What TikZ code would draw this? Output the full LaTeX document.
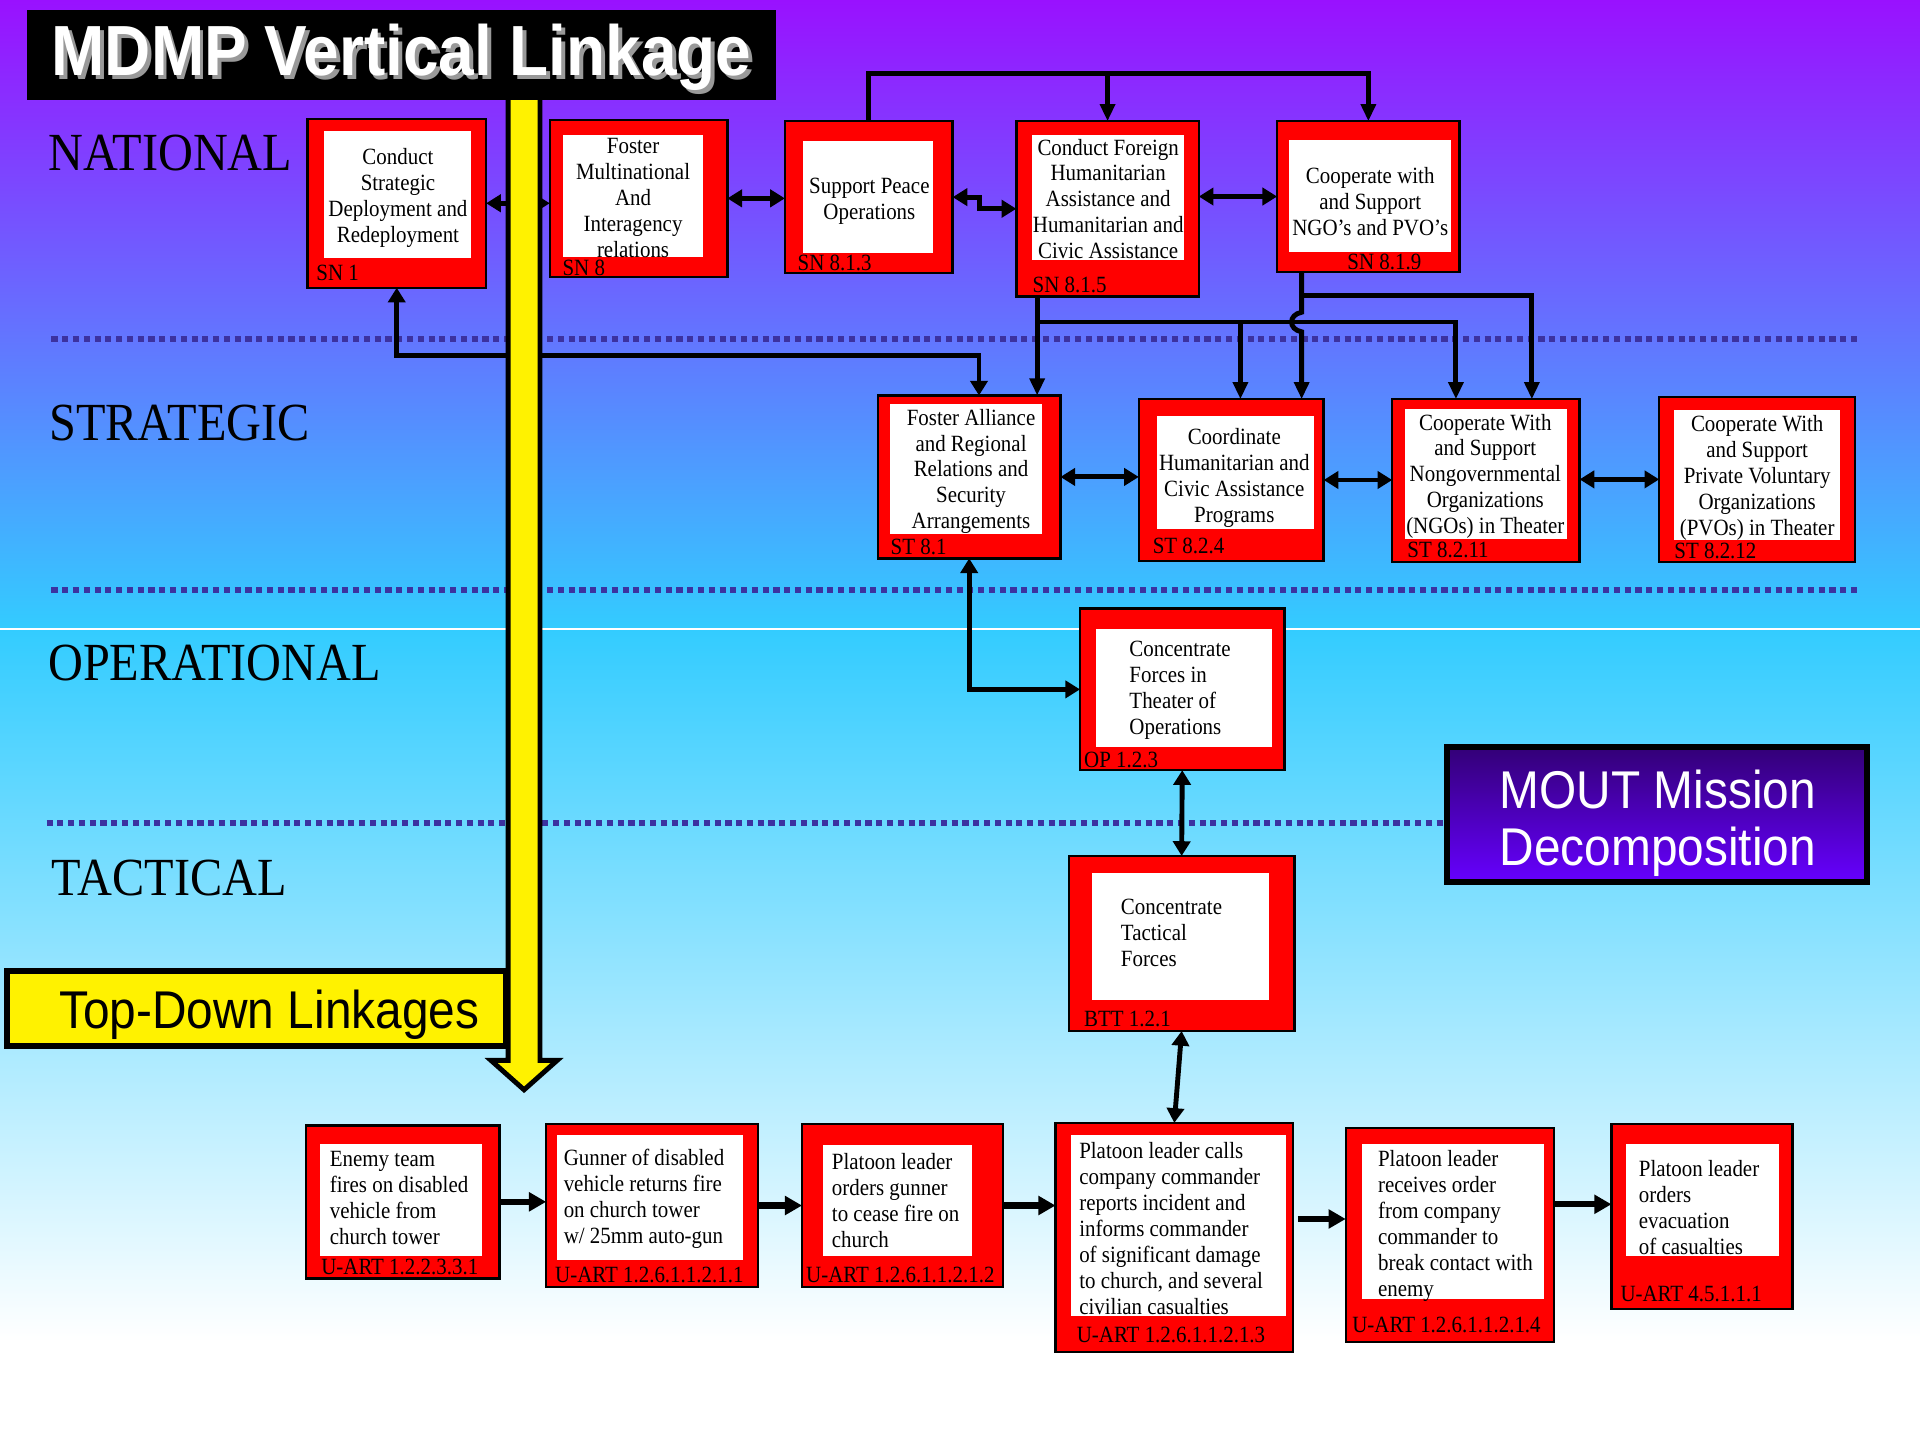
\documentclass[tikz,border=0pt]{standalone}
\usepackage{fontspec}
\setmainfont{Liberation Serif}[FakeStretch=0.9]
\newfontfamily\slideSans{Liberation Sans}[FakeStretch=0.9]
\usetikzlibrary{arrows.meta,fit}
\definecolor{slidePurple}{RGB}{153,17,255}
\definecolor{slideMid}{RGB}{104,150,255}
\definecolor{slideCyan}{RGB}{51,204,255}
\definecolor{dotBlue}{RGB}{60,50,160}
\definecolor{moutTop}{RGB}{51,0,119}
\definecolor{moutBottom}{RGB}{102,0,255}

\begin{document}
\begin{tikzpicture}
[x=0.5pt,y=-0.5pt,
  boxDecorate/.style={draw=black,fill=red,line width=1pt,inner sep=0pt,outer sep=0pt},
  textDecorate/.style={inner sep=0pt,yshift=-1pt,font=\fontsize{9.5}{10.6}\selectfont},
  codeDecorate/.style={inner sep=0pt,anchor=west,font=\fontsize{9.5}{10.6}\selectfont},
  levelDecorate/.style={inner sep=0pt,anchor=base west,font=\fontsize{21.9}{24}\selectfont},
  bannerDecorate/.style={inner sep=0pt,font=\slideSans\fontsize{21.7}{24}\selectfont},
  dotDecorate/.style={dotBlue,line width=2.5pt,dash pattern=on 2.5pt off 1.9pt},
  linkDecorate/.style={line width=2pt,{Triangle[length=6pt,width=7pt]}-{Triangle[length=6pt,width=7pt]}},
  downDecorate/.style={line width=2pt,-{Triangle[length=7pt,width=6pt]}},
  flowDecorate/.style={line width=2.6pt,-{Triangle[length=7pt,width=7.5pt]}}]
\useasboundingbox (0,0) rectangle (1568,1176);
%% background
\shade[top color=slidePurple,middle color=slideMid,bottom color=slideCyan] (0,0) rectangle (1568,514);
\shade[top color=slideCyan,bottom color=white] (0,514) rectangle (1568,1095);
\fill[white] (0,1094) rectangle (1568,1176);
\draw[white,line width=0.8pt] (0,514) -- (1568,514);
\draw[dotDecorate] (42,277) -- (1520,277);
\draw[dotDecorate] (42,482) -- (1520,482);
\draw[dotDecorate] (38,672) -- (1180,672);
%% levels
\node (national) [levelDecorate] at (39,139) {NATIONAL};
\node (strategic) [levelDecorate] at (40,360) {STRATEGIC};
\node (operational) [levelDecorate] at (39,556) {OPERATIONAL};
\node (tactical) [levelDecorate] at (42,731) {TACTICAL};
%% task boxes
\foreach \nm/\xa/\ya/\xb/\yb/\ia/\ja/\ib/\jb/\code/\lx/\ly in {
  sn1/251/97/397/235/265/107/385/211/{SN 1}/258/223,
  sn8/449/98/594/226/460/110/574/210/{SN 8}/459/219,
  sn813/641/99/778/223/656/115/762/207/{SN 8.1.3}/651/215,
  sn815/830/99/979/242/843/110/967/212/{SN 8.1.5}/843/233,
  sn819/1043/99/1192/222/1053/114/1185/206/{SN 8.1.9}/1100/214,
  st81/717/323/866/456/727/330/851/436/{ST 8.1}/727/447,
  st824/930/326/1081/458/945/340/1073/432/{ST 8.2.4}/941/446,
  st8211/1137/326/1290/459/1147/334/1280/440/{ST 8.2.11}/1149/449,
  st8212/1355/324/1515/459/1367/335/1503/441/{ST 8.2.12}/1367/450,
  op123/882/497/1049/629/895/514/1039/610/{OP 1.2.3}/885/621,
  btt121/873/699/1057/842/892/713/1036/817/{BTT 1.2.1}/885/832,
  ua/250/919/408/1044/261/934/394/1026/{U-ART 1.2.2.3.3.1}/262/1035,
  ub/446/918/619/1051/455/927/607/1029/{U-ART 1.2.6.1.1.2.1.1}/453/1041,
  uc/655/918/819/1051/672/935/794/1026/{U-ART 1.2.6.1.1.2.1.2}/658/1041,
  ud/862/917/1056/1104/875/927/1050/1075/{U-ART 1.2.6.1.1.2.1.3}/879/1090,
  ue/1099/921/1269/1096/1112/934/1261/1061/{U-ART 1.2.6.1.1.2.1.4}/1104/1082,
  uf/1316/918/1464/1069/1328/934/1453/1026/{U-ART 4.5.1.1.1}/1323/1057}
{
  \node (\nm) [boxDecorate,fit={(\xa,\ya) (\xb,\yb)}] {};
  \fill[white] (\ia,\ja) rectangle (\ib,\jb);
  \node (\nm-code) [codeDecorate] at (\lx,\ly) {\code};
}
%% box texts
\foreach \nm/\tx/\ty/\txt in {
  sn1/325/159.5/{Conduct\\Strategic\\Deployment and\\Redeployment},
  sn8/517/159.5/{Foster\\Multinational\\And\\Interagency\\relations},
  sn813/710/162/{Support Peace\\Operations},
  sn815/905/160.5/{Conduct Foreign\\Humanitarian\\Assistance and\\Humanitarian and\\Civic Assistance},
  sn819/1119/163/{Cooperate with\\and Support\\NGO’s and PVO’s},
  st81/793/383/{Foster Alliance\\and Regional\\Relations and\\Security\\Arrangements},
  st824/1008/388.5/{Coordinate\\Humanitarian and\\Civic Assistance\\Programs},
  st8211/1213/387/{Cooperate With\\and Support\\Nongovernmental\\Organizations\\(NGOs) in Theater},
  st8212/1435/388/{Cooperate With\\and Support\\Private Voluntary\\Organizations\\(PVOs) in Theater}}
{
  \node (\nm-text) [textDecorate,align=center] at (\tx,\ty) {\txt};
}
\foreach \nm/\tx/\ty/\txt in {
  op123/922/561.5/{Concentrate\\Forces in\\Theater of\\Operations},
  btt121/915/760/{Concentrate\\Tactical\\Forces},
  ua/269/976.5/{Enemy team\\fires on disabled\\vehicle from\\church tower},
  ub/460/977/{Gunner of disabled\\vehicle returns fire\\on church tower\\w/ 25mm auto-gun},
  uc/679/978.5/{Platoon leader\\orders gunner\\to cease fire on\\church},
  ud/881/1001.5/{Platoon leader calls\\company commander\\reports incident and\\informs commander\\of significant damage\\to church, and several\\civilian casualties},
  ue/1125/999/{Platoon leader\\receives order\\from company\\commander to\\break contact with\\enemy},
  uf/1338/984/{Platoon leader\\orders\\evacuation\\of casualties}}
{
  \node (\nm-text) [textDecorate,align=left,anchor=west] at (\tx,\ty) {\txt};
}
%% entry points
\coordinate (topBus) at (709,60);
\coordinate (midBus) at (847,263);
\coordinate (st81a) at ([xshift=4pt]st81.north);
\coordinate (st81b) at ([xshift=27.75pt]st81.north);
\coordinate (st824a) at ([xshift=3.75pt]st824.north);
\coordinate (st824b) at ([xshift=28.75pt]st824.north);
\coordinate (st8211a) at ([xshift=-12.25pt]st8211.north);
\coordinate (st8211b) at ([xshift=18.75pt]st8211.north);
\coordinate (udOut) at ([yshift=7.5pt]ud.east);
\coordinate (ufIn) at ([yshift=5pt]uf.west);
%% links
\draw[linkDecorate] (sn1.east) -- (sn1.east -| sn8.west);
\draw[linkDecorate] (sn8.east) -- (sn8.east -| sn813.west);
\draw[linkDecorate] (sn813.east) -- ++(22,0) |- (sn815.west);
\draw[linkDecorate] (sn815.east |- sn819.west) -- (sn819.west);
\draw[downDecorate] (sn813.north) |- (topBus -| sn819.north) -- (sn819.north);
\draw[downDecorate] (topBus -| sn815.north) -- (sn815.north);
\draw[linkDecorate] (sn1.south) -- ++(0,55) -| (st81a);
\draw[downDecorate] (st81b |- sn815.south) -- (st81b);
\draw[downDecorate] (st81b |- midBus) -| (st8211a);
\draw[downDecorate] (st824a |- midBus) -- (st824a);
\draw[downDecorate] (st824b |- sn819.south) -- ++(0,19) -| (st8211b);
\draw[downDecorate] (st824b |- sn819.south) -- (1063,255)
  .. controls (1052,257) and (1052,269) .. (1063,271) -- (st824b);
\draw[linkDecorate] (st81.east) -- (st81.east -| st824.west);
\draw[linkDecorate] (st824.east) -- (st824.east -| st8211.west);
\draw[linkDecorate] (st8212.west -| st8211.east) -- (st8212.west);
\draw[linkDecorate] (st81.south) |- (op123.west);
\draw[linkDecorate] (op123.south) -- (btt121.north);
\draw[linkDecorate] (btt121.south) -- (ud.north);
\foreach \a/\b in {ua/ub, ub/uc, uc/ud}
  \draw[flowDecorate] (\a.east) -- (\a.east -| \b.west);
\draw[flowDecorate] ([xshift=2pt]udOut) -- (udOut -| ue.west);
\draw[flowDecorate] (ue.east |- ufIn) -- (ufIn);
%% top-down banner and arrow
\node (topDownBox) [fill=yellow,draw=black,line width=2.5pt,inner sep=0pt,fit={(6,793) (413,854)}] {};
\node (topDown) [bannerDecorate,anchor=base west] at (48,840) {Top-Down Linkages};
\draw[fill=yellow,line width=2pt,line join=miter] (415,78) -- (415,866) -- (401,866)
  -- (428,890) -- (455,866) -- (441,866) -- (441,78);
%% title
\node (titleBox) [fill=black,inner sep=0pt,fit={(22,8) (634,82)}] {};
\node (titleShadow) [inner sep=0pt,anchor=base,text=black!40,font=\slideSans\bfseries\fontsize{29}{30}\selectfont] at (331,65) {MDMP Vertical Linkage};
\node (title) [inner sep=0pt,anchor=base,text=white,font=\slideSans\bfseries\fontsize{29}{30}\selectfont] at (328,62) {MDMP Vertical Linkage};
%% mission box
\node (moutBox) [draw=black,line width=2.5pt,top color=moutTop,bottom color=moutBottom,inner sep=0pt,fit={(1182,610) (1525,720)}] {};
\node (moutA) [bannerDecorate,anchor=base,text=white] at (1354,660) {MOUT Mission};
\node (moutB) [bannerDecorate,anchor=base,text=white] at (1354,707) {Decomposition};
\end{tikzpicture}
\end{document}
